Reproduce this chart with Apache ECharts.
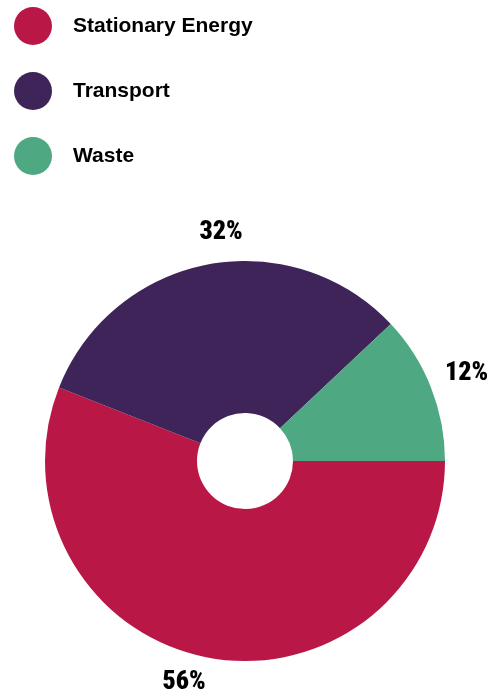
<!DOCTYPE html>
<html>
<head>
<meta charset="utf-8">
<script src="https://cdn.jsdelivr.net/npm/echarts@6/dist/echarts.min.js"></script>
<style>
html,body{margin:0;padding:0;background:#fff;}
#chart{width:491px;height:697px;}
</style>
</head>
<body>
<div id="chart"></div>
<script>
var categories = ['Stationary Energy', 'Transport', 'Waste'];
var values = [56, 32, 12];
var colors = ['#B91846', '#3E2459', '#4EA882'];
// label nudges (style only)
var labelShift = [[6, 10], [43, -17], [-5, -8]];

var chart = echarts.init(document.getElementById('chart'), null, {renderer: 'canvas'});
chart.setOption({
  backgroundColor: '#ffffff',
  animation: false,
  legend: {
    orient: 'vertical',
    left: 9,
    top: 2,
    icon: 'circle',
    itemWidth: 38,
    itemHeight: 38,
    itemGap: 27,
    data: categories,
    textStyle: {
      fontFamily: 'Liberation Sans, Arial, sans-serif',
      fontWeight: 'bold',
      fontSize: 21,
      color: '#000',
      padding: [0, 0, 0, 16]
    }
  },
  series: [{
    type: 'pie',
    center: [245, 461],
    radius: [48, 200],
    startAngle: 0,
    clockwise: true,
    avoidLabelOverlap: false,
    label: {
      show: true,
      position: 'outside',
      formatter: '{c}%',
      fontFamily: 'Roboto Condensed, sans-serif',
      fontWeight: 900,
      fontSize: 26,
      color: '#000'
    },
    labelLine: {show: false, length: 15, length2: 0},
    labelLayout: function (p) {
      var s = labelShift[p.dataIndex];
      return {dx: s[0], dy: s[1]};
    },
    itemStyle: {borderWidth: 0},
    emphasis: {disabled: true},
    data: categories.map(function (c, i) {
      return {name: c, value: values[i], itemStyle: {color: colors[i]}};
    })
  }]
});
</script>
</body>
</html>
